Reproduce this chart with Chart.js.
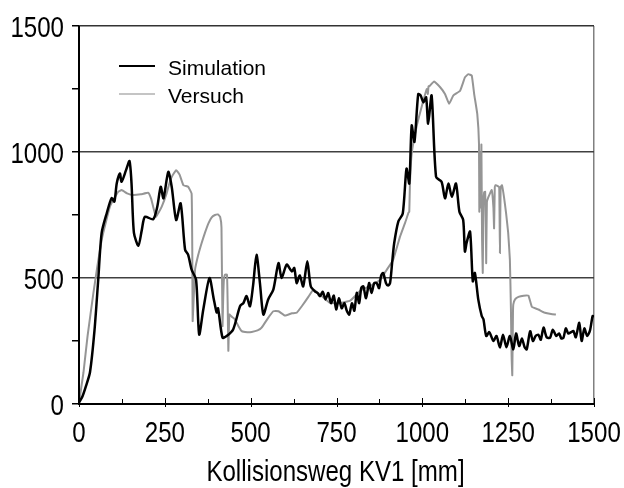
<!DOCTYPE html>
<html>
<head>
<meta charset="utf-8">
<script src="https://cdn.jsdelivr.net/npm/chart.js@4/dist/chart.umd.min.js"></script>
<style>
html,body{margin:0;padding:0;background:#fff;}
#wrap{width:624px;height:488px;position:relative;}
</style>
</head>
<body>
<div id="wrap"><canvas id="c" width="624" height="488"></canvas></div>
<script>
const seriesNames = ["Simulation", "Versuch"];
const xTitle = "Kollisionsweg KV1 [mm]";
const xTickLabels = [0, 250, 500, 750, 1000, 1250, 1500];
const yTickLabels = [0, 500, 1000, 1500];

const simX = [0,10,20,32,45,56,66,81,95,103,110,119,124,137,147,153,160,173,183,192,216,228,238,246,260,270,283,296,309,318,328,341,350,362,380,392,401,405,418,430,449,469,479,488,498,507,517,527,537,551,566,581,590,605,620,627,634,643,653,665,675,687,695,702,710,718,726,734,742,749,757,765,773,780,787,795,802,809,816,822,828,836,845,852,860,867,874,880,886,894,900,906,912,918,930,943,954,962,969,977,988,995,1003,1011,1017,1027,1040,1056,1066,1076,1086,1098,1108,1119,1124,1129,1139,1147,1153,1163,1173,1178,1186,1195,1207,1216,1226,1235,1245,1255,1265,1273,1282,1290,1298,1304,1314,1322,1330,1338,1345,1353,1362,1372,1380,1390,1398,1405,1411,1418,1425,1433,1440,1447,1457,1464,1472,1480,1488,1496,1500];
const simY = [5,30,70,126,290,493,679,758,817,803,876,915,882,928,964,875,679,628,691,743,733,783,862,816,921,862,730,796,612,592,533,493,276,375,500,420,363,380,263,270,296,388,401,428,388,470,592,480,355,415,454,559,500,553,526,540,480,510,467,566,467,447,440,428,445,415,440,400,430,375,420,380,400,370,355,400,370,441,400,460,467,420,480,440,480,480,460,510,520,480,470,480,560,638,724,756,934,875,1105,1040,1230,1225,1197,1217,1112,1224,901,882,816,875,822,875,763,730,605,640,684,487,520,414,349,336,270,285,250,270,224,275,225,270,217,280,230,260,225,217,289,250,270,275,255,303,265,263,295,270,280,260,263,300,280,285,290,265,322,250,300,270,290,349,345];

const expX = [0,13,25,42,55,66,78,90,102,114,124,140,158,180,202,210,216,224,232,241,255,262,270,283,293,304,318,328,330,331,335,338,347,357,367,377,386,396,405,411,415,418,420,422,425,431,433,435,438,446,454,464,474,490,503,520,532,550,566,581,600,620,634,650,668,683,702,731,760,790,820,850,877,895,915,935,950,960,962,964,969,983,1003,1013,1016,1018,1022,1034,1052,1066,1078,1090,1110,1124,1134,1144,1151,1160,1165,1166,1168,1170,1172,1174,1176,1178,1180,1183,1185,1186,1188,1192,1202,1207,1209,1211,1213,1220,1224,1226,1228,1232,1238,1244,1250,1255,1258,1260,1262,1264,1265,1270,1280,1295,1309,1319,1338,1357,1375,1389];
const expY = [5,125,270,441,560,651,720,783,815,842,849,836,829,832,838,815,783,743,760,783,835,870,901,928,910,868,862,835,600,329,450,533,590,638,680,717,740,750,752,743,700,309,420,493,513,513,400,211,355,345,336,310,289,285,286,292,303,340,368,368,351,360,362,390,425,454,434,401,400,410,450,470,493,530,572,664,720,760,763,880,994,1099,1204,1250,1230,1260,1263,1280,1257,1230,1191,1224,1243,1296,1309,1303,1230,1151,1033,763,1000,780,1030,650,520,800,840,842,700,559,800,820,849,780,697,860,868,865,860,599,860,868,820,756,680,572,380,191,114,360,395,415,425,430,430,386,375,362,357,355];

const simPts = simX.map((x, i) => ({x: x, y: simY[i]}));
const expPts = expX.map((x, i) => ({x: x, y: expY[i]}));

const SANS = "'Liberation Sans', Arial, sans-serif";
const LABEL_SIZE = 29;
const SQUEEZE = 0.83;

function squeezedText(ctx, text, x, y, align) {
  ctx.save();
  ctx.translate(x, y);
  ctx.scale(SQUEEZE, 1);
  ctx.textAlign = align;
  ctx.fillText(text, 0, 0);
  ctx.restore();
}

const axisDecor = {
  id: 'axisDecor',
  afterDraw(chart) {
    const ctx = chart.ctx;
    const xs = chart.scales.x, ys = chart.scales.y;
    const a = chart.chartArea;
    ctx.save();
    // x ticks (inside)
    ctx.strokeStyle = '#000';
    ctx.lineWidth = 1;
    for (let v = 0; v <= 1500; v += 125) {
      const px = Math.round(xs.getPixelForValue(v)) + 0.5;
      const major = (v % 250 === 0);
      ctx.beginPath();
      ctx.moveTo(px, a.bottom - (major ? 6 : 5));
      ctx.lineTo(px, a.bottom + (major ? 3 : 0));
      ctx.stroke();
    }
    // axis lines
    ctx.lineWidth = 2;
    ctx.beginPath();
    ctx.moveTo(xs.getPixelForValue(0), a.top);
    ctx.lineTo(xs.getPixelForValue(0), a.bottom + 1);
    ctx.stroke();
    ctx.beginPath();
    ctx.moveTo(a.left, ys.getPixelForValue(0));
    ctx.lineTo(a.right, ys.getPixelForValue(0));
    ctx.stroke();

    // tick labels
    ctx.fillStyle = '#000';
    ctx.font = LABEL_SIZE + "px " + SANS;
    ctx.textBaseline = 'alphabetic';
    xTickLabels.forEach(v => {
      squeezedText(ctx, String(v), xs.getPixelForValue(v), a.bottom + 38, 'center');
    });
    yTickLabels.forEach(v => {
      squeezedText(ctx, String(v), a.left - 15, ys.getPixelForValue(v) + 11, 'right');
    });
    // axis title
    squeezedText(ctx, xTitle, (a.left + a.right) / 2 - 1, 481, 'center');

    // legend
    const items = [
      {label: chart.data.datasets[0].label, color: '#000', w: 2, y: 66},
      {label: chart.data.datasets[1].label, color: '#c4c4c4', w: 2, y: 94}
    ];
    ctx.font = "21px " + SANS;
    ctx.textBaseline = 'middle';
    ctx.textAlign = 'left';
    items.forEach(it => {
      ctx.strokeStyle = it.color;
      ctx.lineWidth = it.w;
      ctx.beginPath();
      ctx.moveTo(119, it.y);
      ctx.lineTo(155, it.y);
      ctx.stroke();
      ctx.fillStyle = '#000';
      ctx.fillText(it.label, 168, it.y + 3);
    });
    ctx.restore();
  }
};

new Chart(document.getElementById('c'), {
  type: 'line',
  data: {
    datasets: [
      {label: seriesNames[0], data: simPts, borderColor: '#000', borderWidth: 2.5, pointRadius: 0, tension: 0.25, order: 1},
      {label: seriesNames[1], data: expPts, borderColor: '#959595', borderWidth: 2, pointRadius: 0, tension: 0.1, order: 2}
    ]
  },
  options: {
    responsive: false,
    animation: false,
    events: [],
    layout: {padding: {left: 0, right: 30, top: 26, bottom: 0}},
    plugins: {legend: {display: false}, tooltip: {enabled: false}},
    scales: {
      x: {
        type: 'linear', min: 0, max: 1500,
        afterBuildTicks(s) { s.ticks = xTickLabels.map(v => ({value: v})); },
        afterFit(s) { s.height = 84; },
        border: {display: false},
        grid: {
          drawTicks: false,
          drawOnChartArea: true,
          color: c => (c.tick && c.tick.value === 1500) ? '#808080' : 'rgba(0,0,0,0)',
          lineWidth: 1.5
        },
        ticks: {display: false}
      },
      y: {
        type: 'linear', min: 0, max: 1500,
        afterBuildTicks(s) { s.ticks = [0,250,500,750,1000,1250,1500].map(v => ({value: v})); },
        afterFit(s) { s.width = 79; },
        border: {display: false},
        grid: {
          drawTicks: true, tickLength: 7,
          color: c => (c.tick && [500,1000].includes(c.tick.value)) ? '#404040' : (c.tick && c.tick.value === 1500 ? '#333' : 'rgba(0,0,0,0)'),
          tickColor: '#000',
          lineWidth: 1.5
        },
        ticks: {display: false}
      }
    }
  },
  plugins: [axisDecor]
});
</script>
</body>
</html>
